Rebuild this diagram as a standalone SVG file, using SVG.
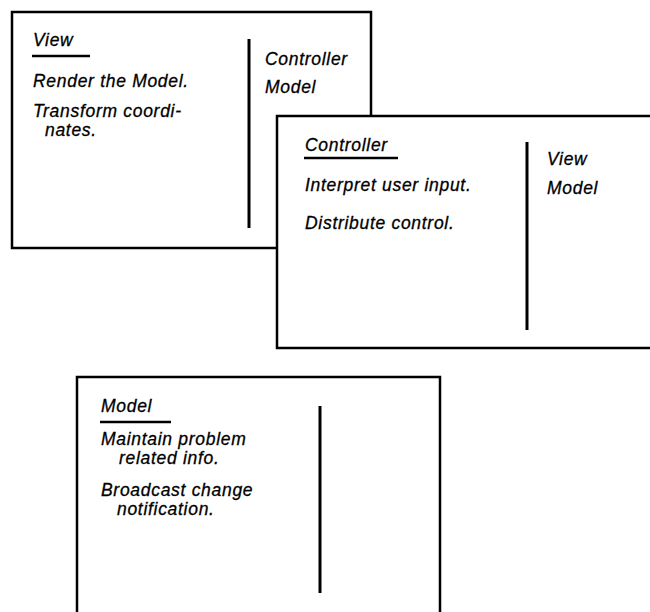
<svg xmlns="http://www.w3.org/2000/svg" width="650" height="612" viewBox="0 0 650 612">
<style>
  .card { fill: #ffffff; stroke: #000000; stroke-width: 2.5; }
  .div { stroke: #000000; stroke-width: 3; }
  .ul { stroke: #000000; stroke-width: 2.5; }
  text { font-family: "Liberation Sans", Arial, Helvetica, sans-serif; font-style: italic; font-size: 17.5px; letter-spacing: 0.7px; fill: #000000; stroke: #000000; stroke-width: 0.3px; }
</style>
<rect width="650" height="612" fill="#ffffff"/>
<g id="view-card">
  <rect class="card" x="12" y="12" width="359" height="236"/>
  <line class="div" x1="249" y1="39" x2="249" y2="228"/>
  <text x="33" y="46">View</text>
  <line class="ul" x1="32" y1="56" x2="90" y2="56"/>
  <text x="33" y="87">Render the Model.</text>
  <text x="33" y="117">Transform coordi-</text>
  <text x="45" y="136">nates.</text>
  <text x="265" y="65">Controller</text>
  <text x="265" y="93">Model</text>
</g>
<g id="controller-card">
  <rect class="card" x="277" y="116" width="430" height="232"/>
  <line class="div" x1="527" y1="142" x2="527" y2="330"/>
  <text x="305" y="151">Controller</text>
  <line class="ul" x1="304" y1="158" x2="398" y2="158"/>
  <text x="305" y="191">Interpret user input.</text>
  <text x="305" y="229">Distribute control.</text>
  <text x="547" y="165">View</text>
  <text x="547" y="194">Model</text>
</g>
<g id="model-card">
  <rect class="card" x="77" y="377" width="363" height="300"/>
  <line class="div" x1="320" y1="406" x2="320" y2="593"/>
  <text x="101" y="412">Model</text>
  <line class="ul" x1="100" y1="422" x2="171" y2="422"/>
  <text x="101" y="445">Maintain problem</text>
  <text x="119" y="464">related info.</text>
  <text x="101" y="496">Broadcast change</text>
  <text x="117" y="515">notification.</text>
</g>
</svg>
